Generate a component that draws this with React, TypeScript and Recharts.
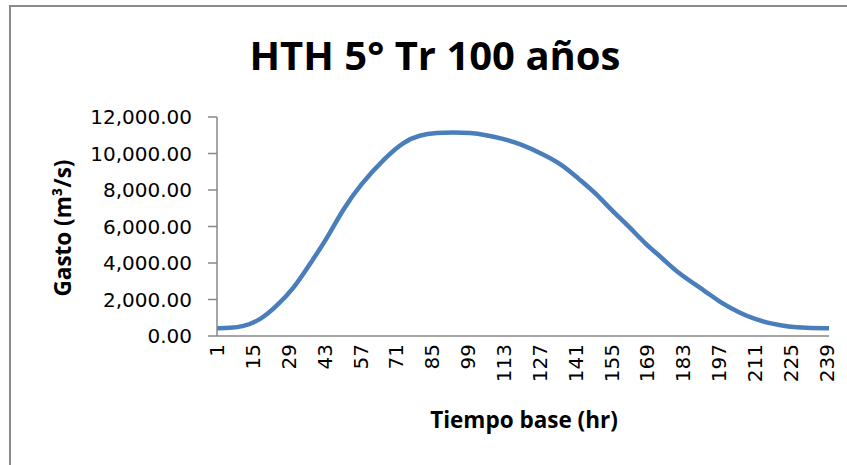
import { CartesianGrid, Line, LineChart, XAxis, YAxis } from 'recharts'

// hydrograph (hour -> flow, m³/s)
const hours = [
  1, 6, 11, 18, 24, 31, 37, 44, 50, 57, 67, 74, 80, 87, 93, 100, 106, 112, 119, 129, 136, 142,
  149, 155, 162, 168, 175, 181, 192, 198, 205, 211, 218, 224, 231, 240,
]
const gasto = [
  420, 440, 500, 880, 1600, 2610, 3890, 5350, 6900, 8300, 9820, 10650, 11010, 11140, 11160, 11140,
  11010, 10830, 10560, 9920, 9370, 8640, 7820, 6900, 5990, 5080, 4260, 3440, 2430, 1790, 1280, 915,
  660, 510, 440, 420,
]
const xTicks = [1, 15, 29, 43, 57, 71, 85, 99, 113, 127, 141, 155, 169, 183, 197, 211, 225, 239]
const yTicks = [0, 2000, 4000, 6000, 8000, 10000, 12000]

const data = hours.map((h, i) => ({ hr: h, gasto: gasto[i] }))

const font = "'Open Sans', 'Liberation Sans', sans-serif"
const tickFont = "'DejaVu Sans', sans-serif"
const axisColor = '#878787'

function fmt(n: number) {
  return n.toLocaleString('en-US', { minimumFractionDigits: 2, maximumFractionDigits: 2 })
}

function XTick(props: any) {
  const { x, y, payload } = props
  return (
    <text
      transform={`translate(${x},${y}) rotate(-90)`}
      textAnchor="end"
      dy="0.36em"
      fontSize={20}
      fontFamily={tickFont}
      fill="#000"
    >
      {payload.value}
    </text>
  )
}

export default function App() {
  return (
    <div style={{ position: 'relative', width: 847, height: 465, overflow: 'hidden', background: '#fff' }}>
      <style>{'body{margin:0}'}</style>
      <div
        style={{
          position: 'absolute',
          left: 9,
          top: 5,
          width: 1000,
          height: 1000,
          borderLeft: '2px solid #8a8a8a',
          borderTop: '2px solid #8a8a8a',
        }}
      />
      <div
        style={{
          position: 'absolute',
          left: 0,
          top: 30,
          width: 870,
          textAlign: 'center',
          fontFamily: font,
          fontWeight: 700,
          fontSize: 40,
          lineHeight: '50px',
        }}
      >
        HTH 5° Tr 100 años
      </div>
      <div
        style={{
          position: 'absolute',
          left: 62,
          top: 228,
          transform: 'translate(-50%, -50%) rotate(-90deg)',
          whiteSpace: 'nowrap',
          fontFamily: font,
          fontWeight: 700,
          fontSize: 22.5,
        }}
      >
        Gasto (m³/s)
      </div>
      <div
        style={{
          position: 'absolute',
          left: 524,
          top: 419,
          transform: 'translate(-50%, -50%)',
          whiteSpace: 'nowrap',
          fontFamily: font,
          fontWeight: 700,
          fontSize: 22.5,
        }}
      >
        Tiempo base (hr)
      </div>
      <LineChart
        width={847}
        height={465}
        data={data}
        margin={{ top: 117, right: 18, left: 0, bottom: 0 }}
        style={{ position: 'absolute', left: 0, top: 0 }}
      >
        <CartesianGrid horizontal={false} vertical={false} />
        <XAxis
          dataKey="hr"
          type="number"
          domain={[1, 240]}
          ticks={xTicks}
          interval={0}
          height={129}
          stroke={axisColor}
          strokeWidth={1.5}
          tickLine={false}
          tickSize={0}
          tickMargin={8}
          tick={<XTick />}
        />
        <YAxis
          type="number"
          domain={[0, 12000]}
          ticks={yTicks}
          width={217}
          stroke={axisColor}
          strokeWidth={1.5}
          tickSize={9}
          tickMargin={16}
          tickFormatter={fmt}
          tick={{ fontSize: 20, fill: '#000', fontFamily: tickFont }}
        />
        <Line
          dataKey="gasto"
          type="basis"
          stroke="#4a7ebb"
          strokeWidth={4.5}
          dot={false}
          isAnimationActive={false}
        />
      </LineChart>
    </div>
  )
}
